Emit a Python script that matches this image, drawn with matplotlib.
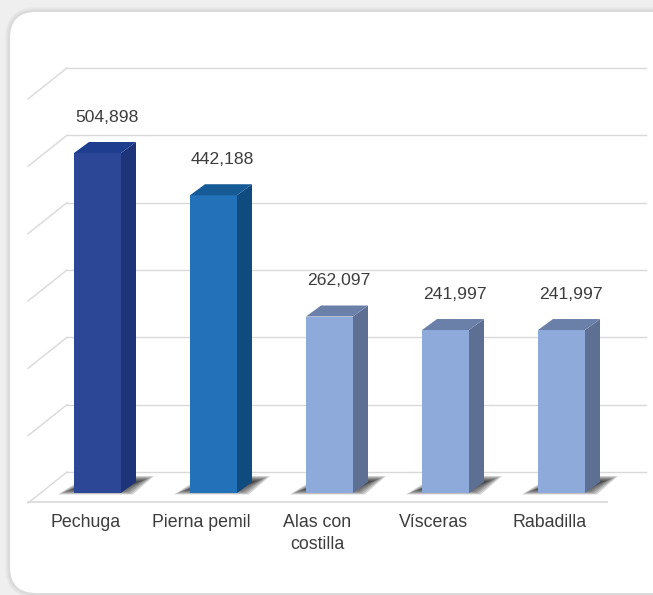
import matplotlib.pyplot as plt
from matplotlib.patches import Polygon, FancyBboxPatch

plt.rcParams["font.family"] = ["Liberation Sans", "DejaVu Sans"]

categories = ["Pechuga", "Pierna pemil", "Alas con\ncostilla", "Vísceras", "Rabadilla"]
values = [504898, 442188, 262097, 241997, 241997]
front_colors = ["#2d4797", "#2271b9", "#8eaadb", "#8eaadb", "#8eaadb"]
side_colors = ["#1d3479", "#0f4b7e", "#5e6f94", "#5e6f94", "#5e6f94"]
top_colors = ["#1f3d8e", "#165b96", "#6b80a8", "#6b80a8", "#6b80a8"]
grid_levels = [0, 100000, 200000, 300000, 400000, 500000, 600000]

# oblique "3D" geometry in data units (x: category slots, y: value units)
PX = 1 / 116.0          # one pixel along x
VPX = 1485.0            # one pixel along y
BAR_W = 47 * PX
SIDE_DX, SIDE_DY = 15 * PX, 11 * VPX
WALL_DX, WALL_DY = 39 * PX, 21 * VPX      # bar plane -> back wall
FRONT_DY = -9 * VPX                       # bar plane -> floor front edge
FLOOR_L, FLOOR_R = -69.5 * PX, 509.5 * PX
GRID_C = "#d9d9d9"
TEXT_C = "#3c3c3c"

fig = plt.figure(figsize=(6.53, 5.95), dpi=100)
fig.patch.set_facecolor("#efefef")

# card background, in pixel units
bg = fig.add_axes([0, 0, 1, 1])
bg.set_xlim(0, 653)
bg.set_ylim(595, 0)
bg.axis("off")
for i, a in enumerate([0.05, 0.05, 0.06, 0.08]):
    pad = 5 - i
    bg.add_patch(FancyBboxPatch((10 - pad, 12 - pad), 680 + 2 * pad, 581 + 2 * pad,
                                boxstyle="round,pad=0,rounding_size=%d" % (26 + pad),
                                fc="#9a9a9a", ec="none", alpha=a))
bg.add_patch(FancyBboxPatch((10, 12), 680, 581, boxstyle="round,pad=0,rounding_size=26",
                            fc="white", ec="none"))

ax = fig.add_axes([0, 0, 1, 1])
ax.patch.set_alpha(0)
ax.set_xlim(-97.5 * PX, 555.5 * PX)
ax.set_ylim(-102 * VPX, 493 * VPX)
ax.axis("off")

# back wall gridlines and the left side wall
for lv in grid_levels:
    ax.plot([FLOOR_L + WALL_DX, FLOOR_R + WALL_DX], [lv + WALL_DY] * 2,
            color=GRID_C, lw=1, zorder=1)
    ax.plot([FLOOR_L, FLOOR_L + WALL_DX], [lv + WALL_DY - 31 * VPX, lv + WALL_DY],
            color=GRID_C, lw=1, zorder=1)
ax.plot([FLOOR_L, FLOOR_R], [FRONT_DY] * 2, color=GRID_C, lw=1.2, zorder=1)

xs = list(range(len(categories)))
hw = BAR_W / 2

# soft floor shadows, layered from wide/faint to tight/dark
for x in xs:
    for k in range(9):
        g = k * 2.0 * PX
        gy = k * 0.8 * VPX
        pts = [(x - hw - 16 * PX + g, -1.5 * VPX + gy),
               (x + hw + 12 * PX - g, -1.5 * VPX + gy),
               (x + hw + SIDE_DX + 18 * PX - g, SIDE_DY + 6 * VPX - gy),
               (x - hw + SIDE_DX - 2 * PX + g, SIDE_DY + 6 * VPX - gy)]
        ax.add_patch(Polygon(pts, closed=True, fc="#151515", ec="none",
                             alpha=0.17, zorder=2))

ax.bar(xs, values, width=BAR_W, color=front_colors, zorder=4, linewidth=0)
for x, v, sc, tc in zip(xs, values, side_colors, top_colors):
    side = [(x + hw, 0), (x + hw + SIDE_DX, SIDE_DY),
            (x + hw + SIDE_DX, v + SIDE_DY), (x + hw, v)]
    top = [(x - hw, v), (x + hw, v), (x + hw + SIDE_DX, v + SIDE_DY),
           (x - hw + SIDE_DX, v + SIDE_DY)]
    ax.add_patch(Polygon(side, closed=True, fc=sc, ec="none", zorder=3))
    ax.add_patch(Polygon(top, closed=True, fc=tc, ec="none", zorder=4))
    ax.text(x + 9 * PX, v + 36 * VPX, f"{v:,}", ha="center", va="center",
            fontsize=12.6, color=TEXT_C, zorder=5)

for x, name in zip(xs, categories):
    ax.text(x - 12 * PX, -21 * VPX, name, ha="center", va="top",
            fontsize=12.8, color=TEXT_C, linespacing=1.4)

fig.savefig("out.png", dpi=100, facecolor=fig.get_facecolor())
